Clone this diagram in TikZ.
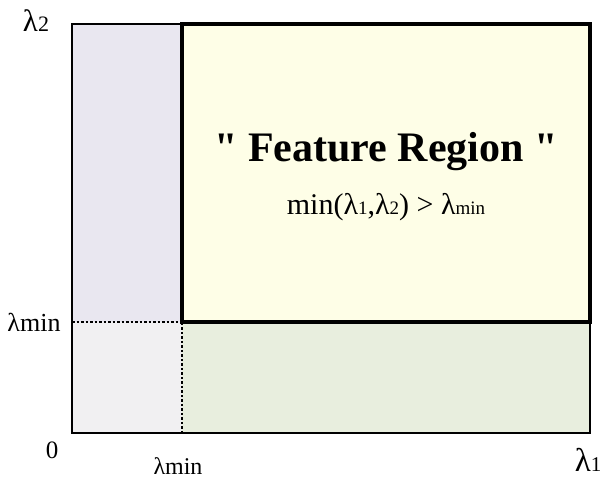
\documentclass[tikz,border=0pt]{standalone}
\usepackage{fontspec}
\setmainfont{Liberation Serif}[Ligatures=TeXOff]
\definecolor{lav}{HTML}{E9E7F0}
\definecolor{lgray}{HTML}{F1F0F2}
\definecolor{lgreen}{HTML}{E8EEDE}
\definecolor{lyel}{HTML}{FEFEE7}
\newcommand{\fsz}[1]{\fontsize{#1}{#1}\selectfont}
\begin{document}
\begin{tikzpicture}[x=1pt,y=1pt,
  lbl/.style={inner sep=0pt,font=\fsz{25}},
  dotline/.style={line width=1.2pt,dash pattern=on 2.5pt off 2pt}]
\useasboundingbox (0,0) rectangle (603,483);
% regions
\fill[lav] (72,161) rectangle (182,459);
\fill[lgray] (72,50) rectangle (182,161);
\fill[lgreen] (182,50) rectangle (590,161);
\fill[lyel] (182,161) rectangle (590,459);
\draw[dotline] (72,161) -- (182,161);
\draw[dotline] (182,50) -- (182,161);
\draw[line width=1.6pt] (72,50) rectangle (590,459);
\draw[line width=3.2pt] (182,161) rectangle (590,459);
% labels
\node[lbl,font=\fsz{31}] (l2) at (36,462) {λ{\fsz{22}2}};
\node[lbl,font=\fsz{26}] (lmy) at (34,161) {λmin};
\node[lbl] (zero) at (52,33) {0};
\node[lbl,font=\fsz{24}] (lmx) at (178,17) {λmin};
\node[lbl,font=\fsz{33}] (l1) at (588,23) {λ{\fsz{21}1}};
\node[inner sep=0pt,anchor=base,font=\fsz{42}\bfseries] (title) at (386,321) {" Feature Region "};
\node[inner sep=0pt,anchor=base,font=\fsz{30}] (cond) at (386,269)
  {min(λ{\fsz{19}1},λ{\fsz{19}2}) > λ{\fsz{19}min}};
\end{tikzpicture}
\end{document}
